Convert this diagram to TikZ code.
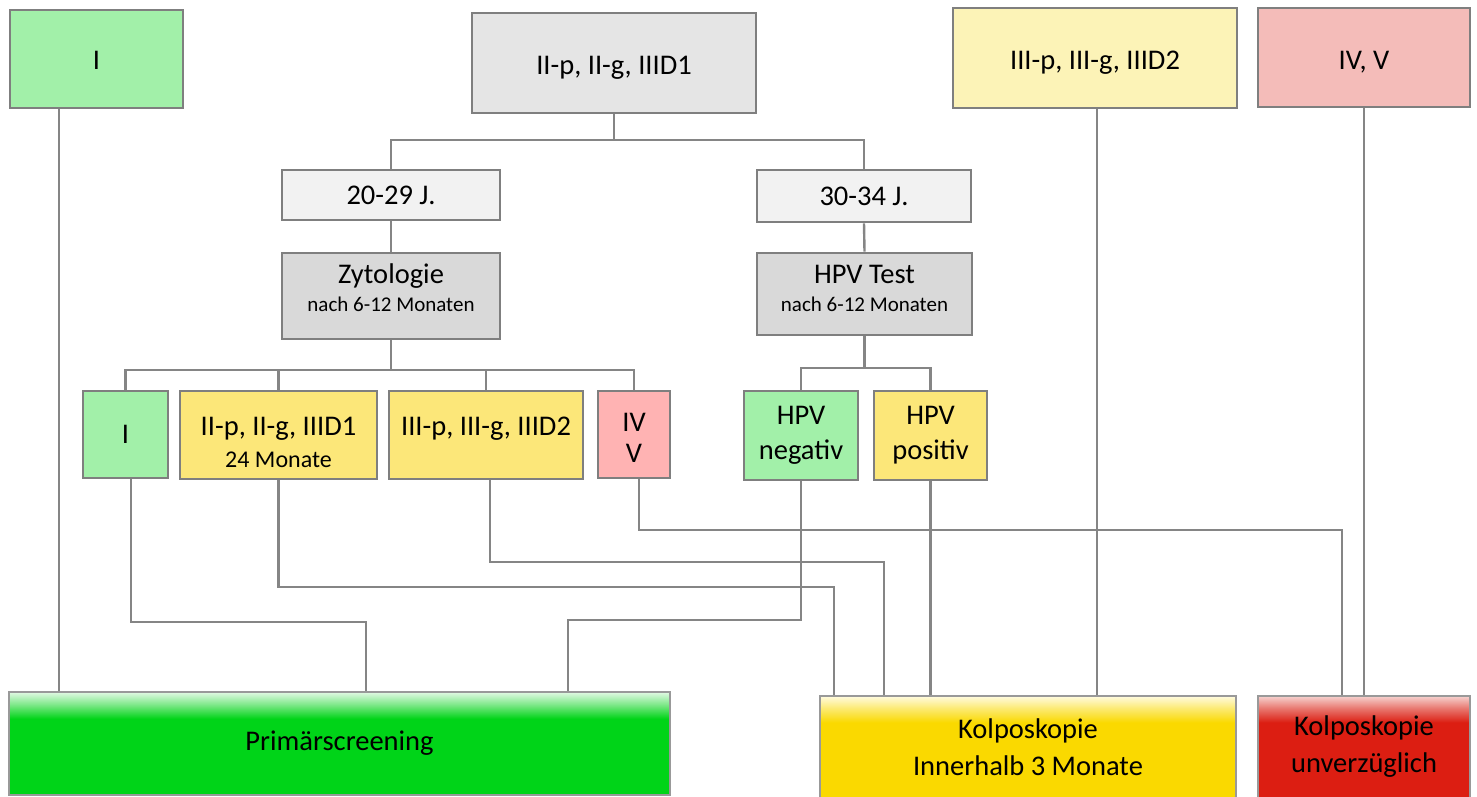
\documentclass[tikz,border=0pt]{standalone}
\usepackage{fontspec}
\setmainfont{Carlito}
\usetikzlibrary{calc}

\definecolor{boxline}{HTML}{7F7F7F}
\definecolor{linkgray}{HTML}{858585}
\definecolor{greenI}{HTML}{A2F0A9}
\definecolor{greyTop}{HTML}{E5E5E5}
\definecolor{yellowTop}{HTML}{FCF3B7}
\definecolor{pinkTop}{HTML}{F4BCB9}
\definecolor{greyAge}{HTML}{F2F2F2}
\definecolor{greyTest}{HTML}{D9D9D9}
\definecolor{yellowRes}{HTML}{FCE779}
\definecolor{pinkRes}{HTML}{FFB3B3}
\definecolor{scrgreen}{HTML}{00D418}
\definecolor{scrgreenmid}{HTML}{7FE88A}
\definecolor{scrgreentop}{HTML}{E2F9E4}
\definecolor{kolyellow}{HTML}{FAD900}
\definecolor{kolyellowmid}{HTML}{FCEA73}
\definecolor{kolyellowtop}{HTML}{FFFBE0}
\definecolor{kolred}{HTML}{DC1E12}
\definecolor{kolredmid}{HTML}{E87870}
\definecolor{kolredtop}{HTML}{F6D2CF}

\pgfdeclareverticalshading{greenfade}{100bp}{color(0bp)=(scrgreen); color(62bp)=(scrgreen); color(69bp)=(scrgreenmid); color(75bp)=(scrgreentop); color(100bp)=(scrgreentop)}
\pgfdeclareverticalshading{yellowfade}{100bp}{color(0bp)=(kolyellow); color(62bp)=(kolyellow); color(69bp)=(kolyellowmid); color(75bp)=(kolyellowtop); color(100bp)=(kolyellowtop)}
\pgfdeclareverticalshading{redfade}{100bp}{color(0bp)=(kolred); color(62bp)=(kolred); color(69bp)=(kolredmid); color(75bp)=(kolredtop); color(100bp)=(kolredtop)}

\newcommand{\smalltxt}{\fontsize{21}{25}\selectfont}
\newcommand{\midtxt}{\fontsize{24}{28}\selectfont}

\begin{document}
\begin{tikzpicture}[x=1pt, y=-1pt,
  box/.style={draw=boxline, line width=2.6pt, align=center, inner sep=0pt, font=\fontsize{28.5}{34}\selectfont},
  endbox/.style={draw=boxline!80, line width=2.6pt, align=center, inner sep=0pt, shade, font=\fontsize{28.5}{37}\selectfont},
  link/.style={draw=linkgray, line width=2.4pt}]
\useasboundingbox (0,0) rectangle (1477,796);

% first finding
\node[box, fill=greenI, minimum width=173pt, minimum height=98pt, text height=21pt] (topI) at (96.5,59) {I};
\node[box, fill=greyTop, minimum width=284pt, minimum height=100pt, text height=28pt] (topII) at (614,63) {II-p, II-g, IIID1};
\node[box, fill=yellowTop, minimum width=284pt, minimum height=100pt, text height=28pt] (topIII) at (1095,58) {III-p, III-g, IIID2};
\node[box, fill=pinkTop, minimum width=212pt, minimum height=99pt, text height=28pt] (topIV) at (1364,57.5) {IV, V};

% age groups and follow-up
\node[box, fill=greyAge, minimum width=218pt, minimum height=50pt] (ageyoung) at (391,195) {20-29 J.};
\node[box, fill=greyAge, minimum width=214pt, minimum height=52pt] (ageold) at (864,196) {30-34 J.};
\node[box, fill=greyTest, minimum width=218pt, minimum height=86pt, text depth=16pt] (zyto) at (391,296) {Zytologie\\[-6pt]{\smalltxt nach 6-12 Monaten}};
\node[box, fill=greyTest, minimum width=215pt, minimum height=82pt, text depth=11pt] (hpv) at (864.5,294) {HPV Test\\[-6pt]{\smalltxt nach 6-12 Monaten}};

% results
\node[box, fill=greenI, minimum width=85pt, minimum height=87pt] (zI) at (125.5,434.5) {I};
\node[box, fill=yellowRes, minimum width=197pt, minimum height=88pt, text height=65pt] (zII) at (278.5,435) {II-p, II-g, IIID1\\[-2pt]{\midtxt 24 Monate}};
\node[box, fill=yellowRes, minimum width=194pt, minimum height=88pt, text height=65pt] (zIII) at (486,435) {III-p, III-g, IIID2\\[-2pt]{\midtxt\vphantom{24 Monate}}};
\node[box, fill=pinkRes, minimum width=72pt, minimum height=87pt, text height=56pt] (zIV) at (634,434.5) {IV\\[-3pt]V};
\node[box, fill=greenI, minimum width=114pt, minimum height=89pt] (hneg) at (801,435.5) {HPV\\[1pt]negativ};
\node[box, fill=yellowRes, minimum width=113pt, minimum height=89pt] (hpos) at (930.5,435.5) {HPV\\[1pt]positiv};

% outcome
\node[endbox, shading=greenfade, minimum width=661pt, minimum height=103pt] (screen) at (339.5,743.5) {Primärscreening};
\node[endbox, shading=yellowfade, minimum width=416pt, minimum height=102pt] (kolpo) at (1028,747) {Kolposkopie\\Innerhalb 3 Monate};
\node[endbox, shading=redfade, minimum width=212pt, minimum height=102pt] (kolpoNow) at (1364,747) {Kolposkopie\\unverzüglich};

% tree
\coordinate (ageSplit) at (614,140);
\draw[link] (topII.south) -- (ageSplit);
\draw[link] (ageSplit) -| (ageyoung.north);
\draw[link] (ageSplit) -| (ageold.north);
\draw[link] (ageyoung.south) -- (zyto.north);
\draw[link] (ageold.south) -- (hpv.north);

\coordinate (zytoSplit) at (391,370);
\draw[link] (zyto.south) -- (zytoSplit);
\draw[link] (zytoSplit) -| (zI.north);
\draw[link] (zytoSplit) -| (zII.north);
\draw[link] (zytoSplit) -| (zIII.north);
\draw[link] (zytoSplit) -| (zIV.north);

\coordinate (hpvSplit) at (864.5,368);
\draw[link] (hpv.south) -- (hpvSplit);
\draw[link] (hpvSplit) -| (hneg.north);
\draw[link] (hpvSplit) -| (hpos.north);

% to Primaerscreening
\coordinate (aI) at ([xshift=-37.5pt]topI.south);
\draw[link] (aI) -- (aI |- screen.north);
\coordinate (aZI) at ([xshift=5.5pt]zI.south);
\draw[link] (aZI) |- (366,622) -- (366,0 |- screen.north);
\draw[link] (hneg.south) |- (568,620) -- (568,0 |- screen.north);

% to Kolposkopie
\draw[link] (zII.south) |- (834,587) -- (834,0 |- kolpo.north);
\coordinate (aZIII) at ([xshift=4pt]zIII.south);
\draw[link] (aZIII) |- (884,562) -- (884,0 |- kolpo.north);
\draw[link] (hpos.south) -- (hpos.south |- kolpo.north);
\coordinate (aIII) at ([xshift=2pt]topIII.south);
\draw[link] (aIII) -- (aIII |- kolpo.north);

% to Kolposkopie unverzueglich
\coordinate (aZIV) at ([xshift=5pt]zIV.south);
\draw[link] (aZIV) |- (1342,530) -- (1342,0 |- kolpoNow.north);
\draw[link] (topIV.south) -- (topIV.south |- kolpoNow.north);
\end{tikzpicture}
\end{document}
